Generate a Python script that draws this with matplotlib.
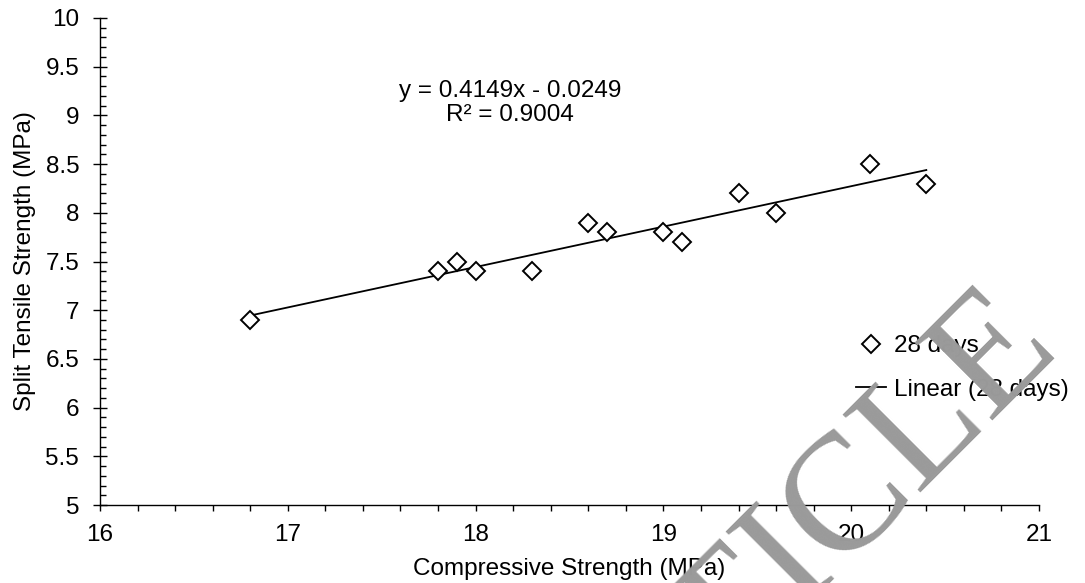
import matplotlib
matplotlib.use("Agg")
import matplotlib.pyplot as plt
from matplotlib.ticker import MultipleLocator

# 28-day test results
compressive = [16.8, 17.8, 17.9, 18.0, 18.3, 18.6, 18.7, 19.0, 19.1, 19.4, 19.6, 20.1, 20.4]
split_tensile = [6.9, 7.4, 7.5, 7.4, 7.4, 7.9, 7.8, 7.8, 7.7, 8.2, 8.0, 8.5, 8.3]

# linear trendline coefficients
slope = 0.4149
intercept = -0.0249
r_squared = 0.9004

W, H = 1085, 583

plt.rcParams["font.family"] = ["Liberation Sans", "DejaVu Sans"]
plt.rcParams["font.size"] = 17.5

fig = plt.figure(figsize=(W / 100, H / 100), dpi=100)
ax = fig.add_axes([100 / W, 1 - 505 / H, 939 / W, 487 / H])

x_fit = [min(compressive), max(compressive)]
y_fit = [slope * x + intercept for x in x_fit]

ax.plot(compressive, split_tensile, linestyle="none", marker="D", markersize=9,
        markerfacecolor="white", markeredgecolor="black", markeredgewidth=1.4,
        label="28 days", zorder=3)
ax.plot(x_fit, y_fit, color="black", linewidth=1.3, label="Linear (28 days)", zorder=2)

ax.set_xlim(16, 21)
ax.set_ylim(5, 10)
ax.xaxis.set_major_locator(MultipleLocator(1))
ax.xaxis.set_minor_locator(MultipleLocator(0.2))
ax.yaxis.set_major_locator(MultipleLocator(0.5))
ax.yaxis.set_minor_locator(MultipleLocator(0.1))
ax.yaxis.set_major_formatter(plt.FuncFormatter(lambda v, p: f"{v:g}"))

for side in ["top", "right"]:
    ax.spines[side].set_visible(False)
for side in ["left", "bottom"]:
    ax.spines[side].set_linewidth(1.0)

ax.tick_params(axis="x", which="both", direction="out", length=4, width=1.0, pad=10)
ax.tick_params(axis="y", which="major", direction="inout", length=10, width=1.0, pad=10)
ax.tick_params(axis="y", which="minor", direction="in", length=4.5, width=1.0)

ax.set_xlabel("Compressive Strength (MPa)", labelpad=8)
ax.set_ylabel("Split Tensile Strength (MPa)", labelpad=7)

ax.text(510 / W, 1 - 103 / H,
        f"y = {slope:.4f}x - {abs(intercept):.4f}\nR\u00b2 = {r_squared:.4f}",
        transform=fig.transFigure, ha="center", va="center", linespacing=1.15)

ax.legend(loc="center left", bbox_to_anchor=(856 / W, 1 - 368 / H),
          bbox_transform=fig.transFigure, frameon=False, handlelength=1.25,
          handletextpad=0.3, labelspacing=0.9, borderpad=0, borderaxespad=0)

# stamp across the lower right
fig.text(1062 / W, 1 - 352 / H, "RETRACTED ARTICLE", family="Liberation Serif",
         fontsize=120, color="#9a9a9a", rotation=45, rotation_mode="anchor",
         ha="right", va="baseline", zorder=10)

fig.savefig("out.png", dpi=100)
